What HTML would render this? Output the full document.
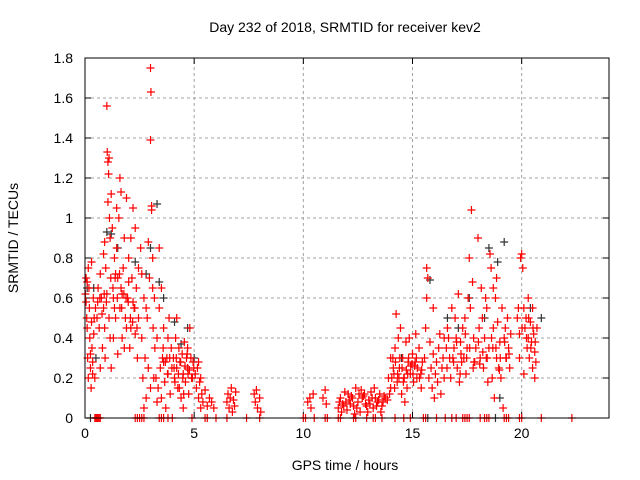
<!DOCTYPE html>
<html><head><meta charset="utf-8"><style>
html,body{margin:0;padding:0;background:#fff;}
svg{display:block;font-family:"Liberation Sans",sans-serif;}
</style></head><body>
<svg id="chart" width="640" height="480" viewBox="0 0 640 480">
<text x="345" y="32" font-size="14" text-anchor="middle">Day 232 of 2018, SRMTID for receiver kev2</text>
<text x="345" y="470" font-size="14" text-anchor="middle">GPS time / hours</text>
<text x="18" y="238" font-size="14" text-anchor="middle" transform="rotate(-90 18 238)">SRMTID / TECUs</text>
<g id="grid"></g>
<g id="ticks"></g>
<g id="black"></g>
<g id="red"></g>
<rect x="85" y="58" width="524" height="360" fill="none" stroke="#000" stroke-width="1"/>
</svg>
<script>
const xTicks=[0,5,10,15,20];
const yTicks=[0,0.2,0.4,0.6,0.8,1,1.2,1.4,1.6,1.8];
const yTickLabels=["0","0.2","0.4","0.6","0.8","1","1.2","1.4","1.6","1.8"];
const redHours=[0.02,0.05,0.08,0.1,0.12,0.15,0.18,0.2,0.22,0.25,0.28,0.3,0.32,0.35,0.38,0.4,0.05,0.15,0.25,0.35,0.45,0.1,0.3,
0.55,0.6,0.65,0.7,0.75,0.8,0.85,0.9,0.92,0.95,1.0,1.02,1.05,1.08,1.1,1.12,1.15,1.18,1.2,1.0,0.9,1.1,1.15,0.7,0.85,1.05,1.2,
1.25,1.3,1.35,1.4,1.45,1.5,1.55,1.6,1.65,1.7,1.75,1.8,1.85,1.9,1.95,2.0,2.05,2.1,2.15,2.2,2.25,2.3,2.35,2.4,2.45,1.3,1.5,1.7,1.9,2.1,2.3,2.45,1.45,1.6,1.65,2.0,2.2,1.4,1.8,1.35,
2.55,2.6,2.65,2.7,2.75,2.8,2.85,2.9,2.95,3.0,3.02,3.0,3.05,3.05,3.1,3.12,3.15,3.18,2.6,2.8,3.0,2.7,3.2,2.9,3.1,
3.25,3.3,3.35,3.4,3.45,3.5,3.55,3.6,3.65,3.7,3.75,3.8,3.85,3.9,3.95,3.4,3.5,3.6,3.3,3.8,
4.05,4.1,4.15,4.2,4.25,4.3,4.35,4.4,4.45,4.5,4.55,4.6,4.65,4.7,4.75,4.8,4.85,4.9,4.95,4.2,4.5,4.7,
5.05,5.1,5.15,5.2,5.25,5.3,5.35,5.4,5.5,5.6,5.7,5.8,5.9,5.2,5.3,
6.5,6.55,6.6,6.65,6.7,6.75,6.8,6.85,6.9,7.75,7.8,7.9,8.0,8.05,7.85,
10.2,10.3,10.35,10.45,10.9,11.0,11.05,
11.6,11.7,11.8,11.9,12.0,12.1,12.2,12.3,12.4,12.5,12.6,12.7,12.8,12.9,13.0,13.1,13.2,13.3,13.4,13.5,13.6,13.7,11.75,12.05,12.35,12.65,12.95,13.25,13.55,13.85,12.15,12.85,
13.9,14.0,14.1,14.15,14.2,14.3,14.35,14.4,14.5,14.55,14.6,14.7,14.75,14.8,14.9,15.0,15.05,15.1,15.2,15.3,15.4,15.45,14.0,14.25,14.45,14.85,15.15,14.65,
15.55,15.6,15.65,15.7,15.75,15.8,15.85,15.9,15.95,16.0,16.05,16.1,16.15,16.2,16.3,16.35,16.4,16.45,15.65,15.95,16.25,16.45,
16.6,16.7,16.8,16.9,17.0,17.05,17.1,17.2,17.3,17.35,17.4,17.5,17.55,17.6,17.65,17.7,17.75,17.8,17.85,17.9,18.0,18.05,18.1,18.2,18.25,18.3,18.4,18.5,18.55,18.6,18.65,18.7,18.75,18.8,18.85,18.9,19.0,19.05,19.1,19.15,19.2,19.3,19.35,19.4,19.45,16.75,17.15,17.45,18.15,18.35,18.45,19.25,16.95,17.25,18.95,19.5,18.7,18.85,
19.8,19.85,19.9,19.95,20.0,20.05,20.1,20.15,20.2,20.25,20.3,20.35,20.4,20.45,20.5,20.55,20.6,20.65,20.7,19.9,20.1,20.3,20.5,20.6,
11.65,11.85,12.25,12.45,12.75,13.05,13.15,13.35,13.45,13.65,13.75,12.55,11.95,13.95,14.05,14.12,14.22,14.32,14.42,14.52,14.62,14.72,14.82,14.92,15.02,15.12,15.22,15.32,15.42,14.18,14.38,14.58,14.78,14.98,15.18,15.38,
4.08,4.18,4.28,4.38,4.48,4.58,4.68,4.78,4.88,4.98,4.12,4.32,4.52,4.72,4.92,3.58,3.68,3.78,3.88,3.98,
0.42,0.48,0.58,0.68,0.78,0.88,0.98,1.28,1.38,1.48,1.58,1.68,1.78,1.88,1.98,2.08,2.18,2.28,2.38,
16.55,16.65,16.85,17.02,17.22,17.42,17.62,17.82,18.02,18.22,18.42,18.62,18.82,19.02,19.22,19.42,16.58,16.88,17.18,17.48,17.78,18.08,18.38,18.68,18.98,19.28,20.02,20.22,20.42,20.62,20.32,20.52,
0.5,0.6,0.7,2.3,2.5,2.7,3.4,3.6,3.8,4.0,4.9,5.6,6.0,6.5,7.4,8.0,10.0,10.1,10.5,11.0,11.6,12.3,12.9,13.2,13.6,14.2,14.6,14.9,15.5,16.1,16.5,16.8,17.0,17.3,17.5,18.1,18.3,18.5,19.2,19.3,20.0,20.9,22.3,0.45,0.55,0.65,2.4,2.6,3.5,5.5,11.1,11.7,12.4,13.3,15.6,17.4,17.6,18.4,19.4,19.9];
const redValues=[0.62,0.7,0.5,0.45,0.3,0.2,0.65,0.55,0.4,0.25,0.15,0.48,0.35,0.28,0.6,0.42,0.58,0.75,0.32,0.22,0.2,0.68,0.78,
0.5,0.65,0.45,0.72,0.6,0.35,0.55,0.88,0.3,0.75,1.56,1.33,1.28,1.22,1.3,1.0,0.9,0.7,0.25,0.62,0.45,0.5,0.4,0.25,0.82,1.08,1.12,
0.95,0.6,0.8,0.5,0.85,0.7,1.0,0.55,0.65,0.4,0.75,0.9,0.5,1.1,0.6,0.8,0.35,0.45,0.7,1.05,0.55,0.95,0.65,0.3,0.5,0.4,0.32,0.62,0.45,0.9,0.42,0.75,1.05,1.2,1.13,0.68,0.58,0.72,0.35,0.55,
0.85,0.4,0.2,0.6,0.3,0.1,0.5,0.25,0.7,1.75,1.63,1.39,1.06,1.04,0.8,0.45,0.2,0.6,0.72,0.55,0.15,0.05,0.35,0.88,0.65,
0.2,0.4,0.15,0.55,0.25,0.1,0.3,0.45,0.18,0.05,0.3,0.22,0.5,0.12,0.35,0.85,0.65,0.28,0.08,0.4,
0.3,0.2,0.4,0.25,0.15,0.35,0.28,0.1,0.32,0.22,0.38,0.18,0.3,0.25,0.12,0.45,0.3,0.2,0.28,0.5,0.05,0.35,
0.22,0.15,0.25,0.1,0.18,0.2,0.12,0.08,0.14,0.06,0.1,0.08,0.05,0.28,0.05,
0.08,0.12,0.05,0.1,0.15,0.03,0.09,0.06,0.13,0.12,0.08,0.05,0.1,0.03,0.14,
0.08,0.1,0.05,0.12,0.1,0.14,0.07,
0.05,0.1,0.07,0.13,0.04,0.09,0.11,0.06,0.15,0.08,0.03,0.1,0.12,0.06,0.09,0.13,0.05,0.1,0.08,0.12,0.06,0.11,0.03,0.12,0.02,0.14,0.03,0.15,0.03,0.09,0.07,0.07,
0.2,0.15,0.3,0.22,0.35,0.18,0.4,0.25,0.12,0.3,0.2,0.38,0.15,0.28,0.22,0.32,0.18,0.26,0.2,0.35,0.15,0.28,0.3,0.52,0.45,0.4,0.42,0.08,
0.3,0.45,0.75,0.7,0.2,0.38,0.25,0.15,0.32,0.1,0.22,0.28,0.18,0.35,0.12,0.25,0.3,0.2,0.6,0.55,0.42,0.4,
0.45,0.3,0.55,0.35,0.4,0.25,0.62,0.38,0.45,0.3,0.5,0.35,0.6,0.8,0.55,1.04,0.68,0.4,0.28,0.35,0.9,0.45,0.3,0.5,0.25,0.4,0.55,0.35,0.82,0.75,0.2,0.45,0.1,0.6,0.3,0.48,0.38,0.2,0.55,0.05,0.4,0.3,0.5,0.35,0.25,0.2,0.18,0.22,0.65,0.6,0.18,0.45,0.5,0.28,0.25,0.42,0.65,0.7,
0.5,0.55,0.42,0.8,0.82,0.75,0.55,0.45,0.5,0.35,0.4,0.3,0.48,0.38,0.25,0.42,0.33,0.28,0.45,0.3,0.22,0.6,0.55,0.2,
0.08,0.06,0.1,0.05,0.11,0.07,0.1,0.06,0.09,0.08,0.1,0.12,0.08,0.12,0.2,0.25,0.28,0.22,0.3,0.25,0.2,0.24,0.3,0.26,0.22,0.28,0.25,0.2,0.24,0.15,0.2,0.18,0.22,0.27,0.3,0.22,
0.25,0.3,0.22,0.28,0.2,0.26,0.32,0.24,0.2,0.25,0.18,0.15,0.12,0.22,0.2,0.35,0.28,0.22,0.3,0.25,
0.5,0.55,0.58,0.6,0.52,0.62,0.58,0.65,0.7,0.6,0.72,0.55,0.62,0.6,0.58,0.5,0.48,0.55,0.45,
0.35,0.4,0.3,0.38,0.32,0.42,0.35,0.28,0.38,0.33,0.3,0.4,0.35,0.3,0.38,0.32,0.25,0.28,0.22,0.3,0.25,0.27,0.3,0.35,0.24,0.3,0.45,0.4,0.35,0.38,0.5,0.45,
0,0,0,0,0,0,0,0,0,0,0,0,0,0,0,0,0,0,0,0,0,0,0,0,0,0,0,0,0,0,0,0,0,0,0,0,0,0,0,0,0,0,0,0,0,0,0,0,0,0,0,0,0,0,0,0,0,0,0,0];
const blackHours=[0.1,0.4,1.0,1.2,2.8,3.0,3.3,3.4,3.6,4.1,4.4,4.7,5.0,15.8,17.6,18.5,18.9,19.2,18.3,17.1,20.4,20.9,19.0,14.5,16.6,2.3,1.5,0.5,0.25,15.7,18.8];
const blackValues=[0.65,0.65,0.93,0.92,0.72,0.85,1.07,0.68,0.6,0.48,0.37,0.45,0.3,0.69,0.6,0.85,0.78,0.88,0.5,0.45,0.55,0.5,0.1,0.3,0.5,0.78,0.85,0.3,0,0,0];

const X0=85,X1=609,Y0=418,Y1=58;
const xs=h=>X0+(h/24)*(X1-X0);
const ys=v=>Y0-(v/1.8)*(Y0-Y1);
const NS="http://www.w3.org/2000/svg";
function mk(tag,attrs,parent){const e=document.createElementNS(NS,tag);for(const k in attrs)e.setAttribute(k,attrs[k]);parent.appendChild(e);return e;}
const grid=document.getElementById('grid'),ticks=document.getElementById('ticks');
xTicks.forEach(t=>{
  const x=xs(t);
  if(t>0){const g=mk('line',{x1:x,y1:Y0,x2:x,y2:Y1,stroke:'#a0a0a0','stroke-dasharray':'3,3'},grid);
  
  }
  mk('line',{x1:x,y1:Y0,x2:x,y2:Y0-6,stroke:'#000'},ticks);
  mk('line',{x1:x,y1:Y1,x2:x,y2:Y1+6,stroke:'#000'},ticks);
  const l=mk('text',{x:x,y:Y0+20,'font-size':14,'text-anchor':'middle'},ticks);l.textContent=t;
  
  
});
yTicks.forEach((t,i)=>{
  const y=ys(t);
  if(t>0&&t<1.8){const g=mk('line',{x1:X0,y1:y,x2:X1,y2:y,stroke:'#a0a0a0','stroke-dasharray':'3,3'},grid);
  
  }
  mk('line',{x1:X0,y1:y,x2:X0+6,y2:y,stroke:'#000'},ticks);
  mk('line',{x1:X1,y1:y,x2:X1-6,y2:y,stroke:'#000'},ticks);
  const l=mk('text',{x:X0-12,y:y+5,'font-size':14,'text-anchor':'end'},ticks);l.textContent=yTickLabels[i];
  
  
});
function plus(h,v,col,parent,name){
  const x=xs(h),y=ys(v);
  const p=mk('path',{d:`M${x-4},${y}H${x+4}M${x},${y-4}V${y+4}`,stroke:col,'stroke-width':1.2,fill:'none'},parent);
  
  
}
const bg=document.getElementById('black'),rg=document.getElementById('red');
blackHours.forEach((h,i)=>plus(h,blackValues[i],'#333',bg,'black-point'));
redHours.forEach((h,i)=>plus(h,redValues[i],'#ff0000',rg,'red-point'));
</script>
</body></html>
